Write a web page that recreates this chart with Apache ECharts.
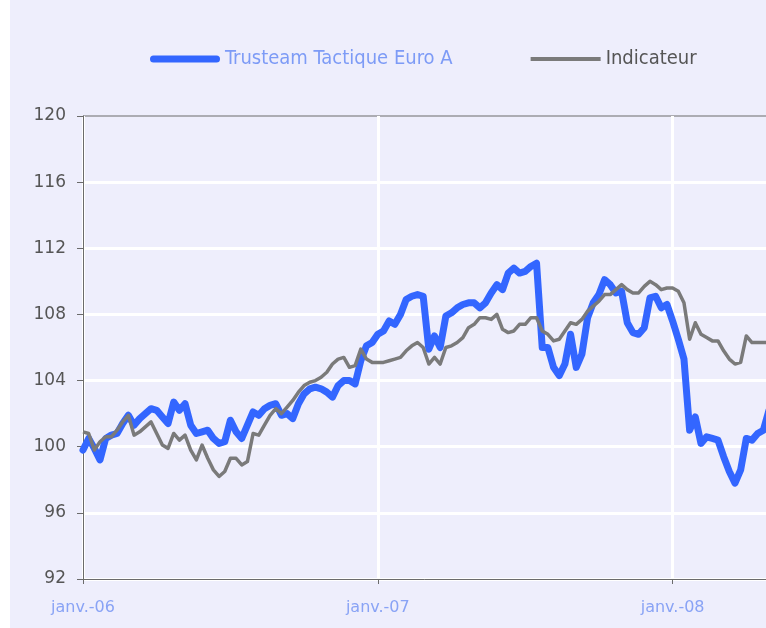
<!DOCTYPE html>
<html>
<head>
<meta charset="utf-8">
<script src="https://cdn.jsdelivr.net/npm/echarts@6/dist/echarts.min.js"></script>
<style>
  html, body { margin: 0; padding: 0; background: #ffffff; }
  #chart { position: absolute; left: 10px; top: 0; width: 756px; height: 628px; }
</style>
</head>
<body>
<div id="chart"></div>
<script>
// weekly points, janv. 2006 -> avr. 2008
const tickLabels = ['janv.-06', 'janv.-07', 'janv.-08'];
const tickIndex = [0, 52, 104];

const fund = [
  99.8, 100.5, 99.9, 99.2, 100.5, 100.7, 100.8, 101.4, 101.9, 101.3,
  101.7, 102.0, 102.3, 102.2, 101.8, 101.4, 102.7, 102.2, 102.6, 101.3,
  100.8, 100.9, 101.0, 100.5, 100.2, 100.3, 101.6, 100.9, 100.5, 101.3,
  102.1, 101.9, 102.3, 102.5, 102.6, 101.9, 102.0, 101.7, 102.6, 103.2,
  103.5, 103.6, 103.5, 103.3, 103.0, 103.7, 104.0, 104.0, 103.8, 105.2,
  106.1, 106.3, 106.8, 107.0, 107.6, 107.4, 108.0, 108.9, 109.1, 109.2,
  109.1, 105.9, 106.7, 106.0, 107.9, 108.1, 108.4, 108.6, 108.7, 108.7,
  108.4, 108.7, 109.3, 109.8, 109.5, 110.5, 110.8, 110.5, 110.6, 110.9,
  111.1, 106.0, 106.0, 104.8, 104.3, 105.0, 106.8, 104.8, 105.6, 107.8,
  108.7, 109.2, 110.1, 109.8, 109.3, 109.4, 107.5, 106.9, 106.8, 107.2,
  109.0, 109.1, 108.4, 108.6, 107.6, 106.5, 105.3, 101.0, 101.8, 100.2,
  100.6, 100.5, 100.4, 99.4, 98.5, 97.8, 98.6, 100.5, 100.4, 100.8,
  101.0, 102.2
];

const indicateur = [
  100.9, 100.8, 99.8, 100.3, 100.6, 100.6, 101.0, 101.5, 101.9, 100.7,
  100.9, 101.2, 101.5, 100.8, 100.1, 99.9, 100.8, 100.4, 100.7, 99.8,
  99.2, 100.1, 99.3, 98.6, 98.2, 98.5, 99.3, 99.3, 98.9, 99.1,
  100.8, 100.7, 101.3, 101.9, 102.3, 102.0, 102.4, 102.8, 103.3, 103.7,
  103.9, 104.0, 104.2, 104.5, 105.0, 105.3, 105.4, 104.8, 104.9, 105.9,
  105.3, 105.1, 105.1, 105.1, 105.2, 105.3, 105.4, 105.8, 106.1, 106.3,
  106.0, 105.0, 105.4, 105.0, 106.0, 106.1, 106.3, 106.6, 107.2, 107.4,
  107.8, 107.8, 107.7, 108.0, 107.1, 106.9, 107.0, 107.4, 107.4, 107.8,
  107.8, 107.0, 106.8, 106.4, 106.5, 107.0, 107.5, 107.4, 107.7, 108.2,
  108.5, 108.8, 109.2, 109.2, 109.5, 109.8, 109.5, 109.3, 109.3, 109.7,
  110.0, 109.8, 109.5, 109.6, 109.6, 109.4, 108.7, 106.5, 107.5, 106.8,
  106.6, 106.4, 106.4, 105.8, 105.3, 105.0, 105.1, 106.7, 106.3, 106.3,
  106.3, 106.3
];

const categories = fund.map(function (v, i) {
  const k = tickIndex.indexOf(i);
  return k >= 0 ? tickLabels[k] : String(i);
});
const isTick = function (i) { return tickIndex.indexOf(i) >= 0; };

const chart = echarts.init(document.getElementById('chart'));
chart.setOption({
  animation: false,
  backgroundColor: '#eeeefc',
  legend: {
    left: 135,
    top: 44,
    itemWidth: 70,
    itemHeight: 20,
    itemGap: 78,
    symbolKeepAspect: true,
    data: [
      {
        name: 'Trusteam Tactique Euro A',
        icon: 'path://M3.5,0 L66.5,0 A3.5,3.5 0 0 1 66.5,7 L3.5,7 A3.5,3.5 0 0 1 3.5,0 Z',
        textStyle: { color: '#7d9bf6' }
      },
      {
        name: 'Indicateur',
        icon: 'path://M0,0 L70,0 L70,4 L0,4 Z',
        textStyle: { color: '#555555' }
      }
    ],
    textStyle: {
      fontFamily: "'Liberation Sans Narrow', 'DejaVu Sans Condensed', sans-serif",
      fontSize: 20
    }
  },
  grid: {
    show: true,
    outerBoundsMode: 'none',
    left: 73,
    width: 686,
    top: 116,
    bottom: 49,
    borderColor: '#6b6b6b',
    borderWidth: 1
  },
  xAxis: {
    type: 'category',
    boundaryGap: false,
    data: categories,
    axisLine: { lineStyle: { color: '#6b6b6b', width: 1 } },
    axisTick: {
      interval: function (i) { return isTick(i); },
      length: 5,
      lineStyle: { color: '#6b6b6b' }
    },
    axisLabel: {
      interval: function (i) { return isTick(i); },
      color: '#89a3f5',
      fontFamily: 'DejaVu Sans',
      fontSize: 16,
      margin: 21
    },
    splitLine: {
      show: true,
      interval: function (i) { return isTick(i); },
      lineStyle: { color: '#ffffff', width: 3 }
    }
  },
  yAxis: {
    type: 'value',
    min: 92,
    max: 120,
    interval: 4,
    axisLine: { show: true, lineStyle: { color: '#6b6b6b', width: 1 } },
    axisTick: { show: true, length: 6, lineStyle: { color: '#6b6b6b' } },
    axisLabel: {
      color: '#555555',
      fontFamily: 'DejaVu Sans',
      fontSize: 17,
      margin: 17
    },
    splitLine: {
      showMaxLine: false,
      lineStyle: { color: '#ffffff', width: 3 }
    }
  },
  series: [
    {
      name: 'Trusteam Tactique Euro A',
      type: 'line',
      symbol: 'none',
      data: fund,
      lineStyle: { color: '#3366ff', width: 7, cap: 'round', join: 'round' },
      itemStyle: { color: '#3366ff' }
    },
    {
      name: 'Indicateur',
      type: 'line',
      symbol: 'none',
      data: indicateur,
      lineStyle: { color: '#7a7a7a', width: 3.5, join: 'round' },
      itemStyle: { color: '#7a7a7a' }
    }
  ]
});
</script>
</body>
</html>
